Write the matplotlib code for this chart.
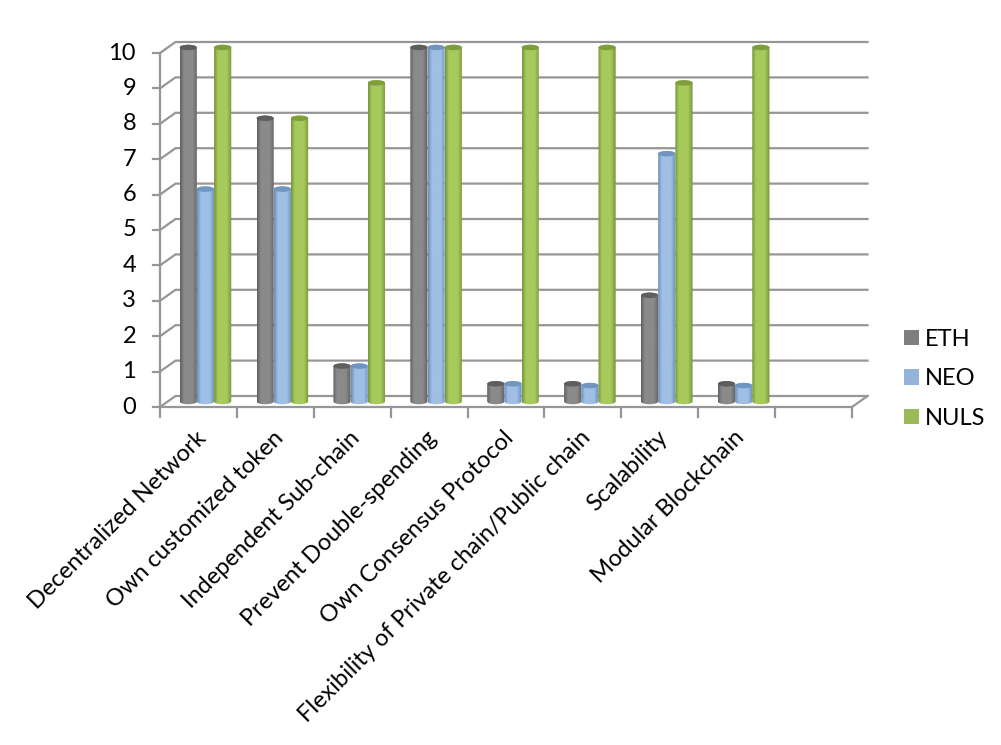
import numpy as np
import matplotlib
matplotlib.use("Agg")
import matplotlib.pyplot as plt
from matplotlib.colors import LinearSegmentedColormap
from matplotlib.patches import Patch, Polygon, Ellipse

categories = ["Decentralized Network", "Own customized token", "Independent Sub-chain",
              "Prevent Double-spending", "Own Consensus Protocol",
              "Flexibility of Private chain/Public chain", "Scalability", "Modular Blockchain", ""]
eth = [10, 8, 1, 10, 0.5, 0.5, 3, 0.5]
neo = [6, 6, 1, 10, 0.5, 0.45, 7, 0.45]
nuls = [10, 8, 9, 10, 10, 10, 9, 10]
series_names = ["ETH", "NEO", "NULS"]
yticks = list(range(0, 11))

plt.rcParams['font.family'] = ['Lato', 'DejaVu Sans']
W, H = 1001, 745
fig = plt.figure(figsize=(W/100, H/100), dpi=100)
L, R, T, B = 160, 852, 53, 407
ax = fig.add_axes([L/W, 1-B/H, (R-L)/W, (B-T)/H])
ax.set_axis_off()
n = len(categories)
pxx = (R-L)/n
pxy = (B-T)/10
DX, DY = 15.5/pxx, 11/pxy
GC = '#969696'
LW = 1.6
FS = 17

# walls / grid
for v in yticks:
    ax.plot([0, DX, n+DX], [v, v+DY, v+DY], color=GC, lw=LW, zorder=1, clip_on=False, solid_joinstyle='miter')
    ax.plot([-7/pxx, 0], [v, v], color=GC, lw=LW, zorder=1, clip_on=False)
ax.plot([0, 0], [0, 10], color=GC, lw=LW, zorder=1.5, clip_on=False)
ax.plot([0, n, n+DX], [0, 0, DY], color=GC, lw=LW, zorder=1.5, clip_on=False)
for i in range(n+1):
    ax.plot([i, i], [0, -10/pxy], color=GC, lw=LW, zorder=1.5, clip_on=False)

# cylinders
styles = [("#606060", "#8a8a8a", "#5e5e5e"),
          ("#6a8fb8", "#a0bfe4", "#7095c0"),
          ("#76943a", "#a8ca5c", "#7e9e3c")]
legend_cols = ["#7f7f7f", "#95b3d7", "#9bbb59"]
bw = 17.2/pxx
eh = 5.5/pxy
t = np.linspace(0, np.pi, 40)
for s, vals in enumerate([eth, neo, nuls]):
    edge, mid, top = styles[s]
    cmap = LinearSegmentedColormap.from_list("c", [(0, edge), (0.22, mid), (0.72, mid), (1, edge)], N=64)
    for i, v in enumerate(vals):
        cx = i + 0.5 + 7/pxx + (s-1)*bw
        y0 = 5.5/pxy
        y1 = v + y0
        xs = cx + bw/2*np.cos(t)
        up = y1 + eh/2*np.sin(t)
        dn = y0 - eh/2*np.sin(t)
        poly = np.column_stack([np.r_[xs, xs[::-1]], np.r_[up, dn[::-1]]])
        z = 3 + s + i*0.1
        clip = Polygon(poly, closed=True, transform=ax.transData, fc='none', ec='none', clip_on=False)
        ax.add_patch(clip)
        im = ax.imshow(np.linspace(0, 1, 64)[None, :], cmap=cmap, aspect='auto',
                       extent=[cx-bw/2, cx+bw/2, y0-eh, y1+eh], zorder=z)
        im.set_clip_path(clip)
        im.set_clip_box(fig.bbox)
        ax.add_patch(Ellipse((cx, y1), bw, eh, fc=top, ec='none', zorder=z+0.05, clip_on=False))
ax.set_xlim(0, n)
ax.set_ylim(0, 10)

# labels
for v in yticks:
    ax.annotate(str(v), (0, v), xytext=(-24, 0), textcoords='offset pixels', ha='right', va='center',
                fontsize=FS, color='black', annotation_clip=False)
for i, c in enumerate(categories):
    ax.annotate(c, (i+0.5, 0), xytext=(-3, -20), textcoords='offset pixels', ha='right', va='top',
                rotation=45, rotation_mode='anchor', fontsize=FS, color='black', annotation_clip=False)

handles = [Patch(fc=c, ec='none') for c in legend_cols]
fig.legend(handles, series_names, loc='upper left', bbox_to_anchor=(904/W, 1-329/H), frameon=False,
           fontsize=FS, handlelength=0.63, handleheight=0.63, handletextpad=0.27,
           labelspacing=0.78, borderpad=0, borderaxespad=0)
fig.savefig("out.png", dpi=100)
